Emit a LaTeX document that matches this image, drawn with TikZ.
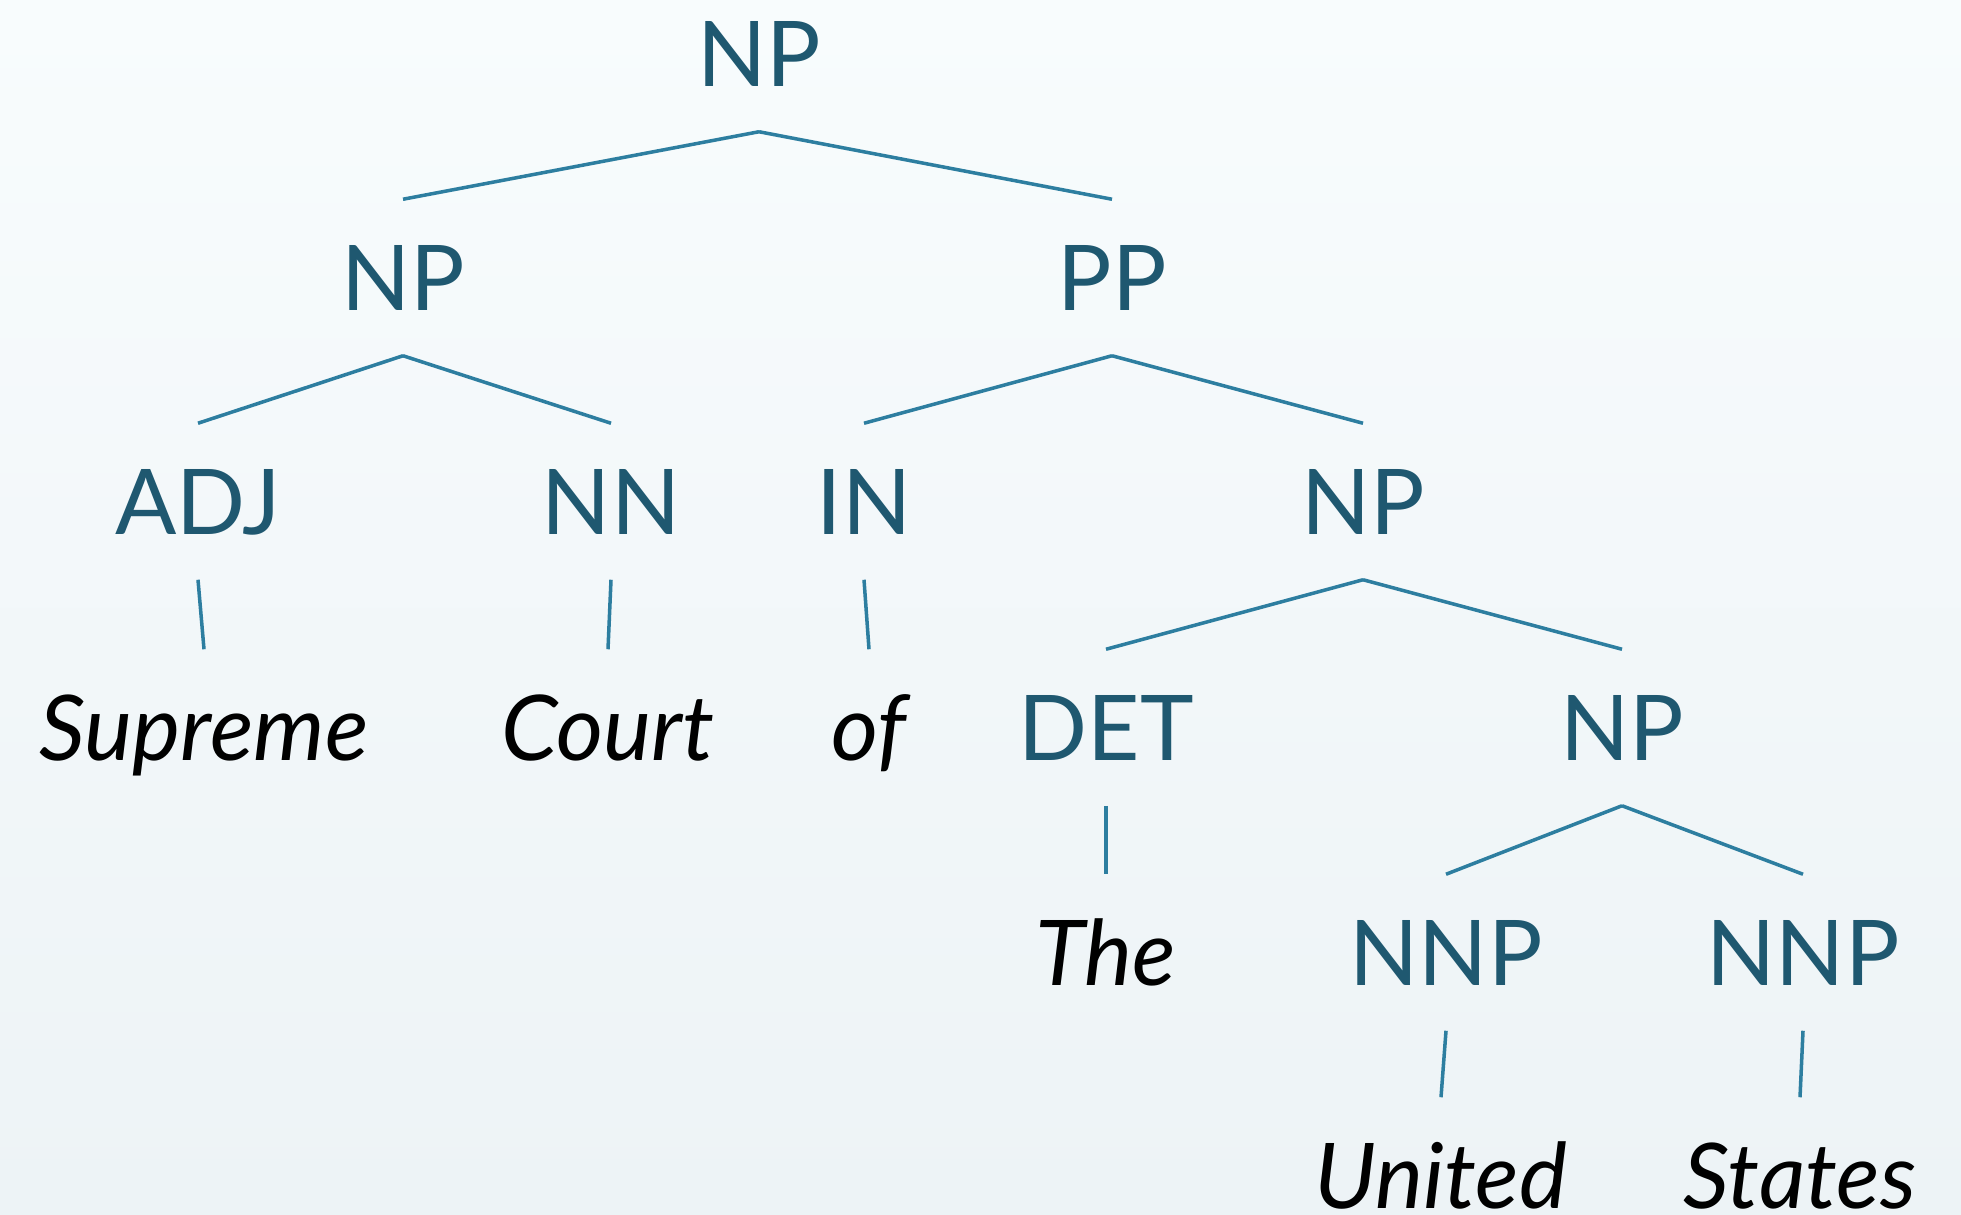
\documentclass[tikz,border=0pt]{standalone}
\usepackage{fontspec}
\setmainfont{Lato}
\usepackage{tikz}
\definecolor{bgTop}{HTML}{F8FCFD}
\definecolor{bgBottom}{HTML}{EDF3F6}
\definecolor{tagTeal}{HTML}{1F5870}
\definecolor{branch}{HTML}{2D7EA0}

\begin{document}
\begin{tikzpicture}[x=0.01cm,y=-0.01cm]
    \tikzset{tag/.style={anchor=base,text=tagTeal,font=\fontsize{25.8}{26}\selectfont,text height=6.5mm,text depth=0pt,inner xsep=0pt,inner ysep=4.5mm}, word/.style={tag,text=black,font=\fontsize{25.8}{26}\selectfont\itshape}, br/.style={draw=branch,line width=1pt}}
    \useasboundingbox (0,0) rectangle (1961,1214);
    \shade[top color=bgTop,bottom color=bgBottom] (0,0) rectangle (1961,1214);
    % phrase labels
    \node[tag] (np) at (759,86) {NP};
    \node[tag] (npl) at (403,310) {NP};
    \node[tag] (pp) at (1112,310) {PP};
    \node[tag] (adj) at (198,534) {ADJ};
    \node[tag] (nn) at (611,534) {NN};
    \node[tag] (in) at (864,534) {IN};
    \node[tag] (npr) at (1363,534) {NP};
    \node[tag] (det) at (1106,760) {DET};
    \node[tag] (npus) at (1622,760) {NP};
    \node[tag] (nnpa) at (1446,985) {NNP};
    \node[tag] (nnpb) at (1803,985) {NNP};
    % the words
    \node[word] (supreme) at (204,760) {Supreme};
    \node[word] (court) at (608,760) {Court};
    \node[word] (of) at (869,760) {of};
    \node[word] (the) at (1106,985) {The};
    \node[word] (united) at (1441,1208) {United};
    \node[word] (states) at (1800,1208) {States};
    \draw[br] (np.south)--(npl.north); \draw[br] (np.south)--(pp.north); \draw[br] (npl.south)--(adj.north); \draw[br] (npl.south)--(nn.north); \draw[br] (pp.south)--(in.north); \draw[br] (pp.south)--(npr.north);
    \draw[br] (npr.south)--(det.north); \draw[br] (npr.south)--(npus.north); \draw[br] (npus.south)--(nnpa.north); \draw[br] (npus.south)--(nnpb.north);
    \draw[br] (adj.south)--(supreme.north); \draw[br] (nn.south)--(court.north); \draw[br] (in.south)--(of.north); \draw[br] (det.south)--(the.north); \draw[br] (nnpa.south)--(united.north); \draw[br] (nnpb.south)--(states.north);
  \end{tikzpicture}
\end{document}
